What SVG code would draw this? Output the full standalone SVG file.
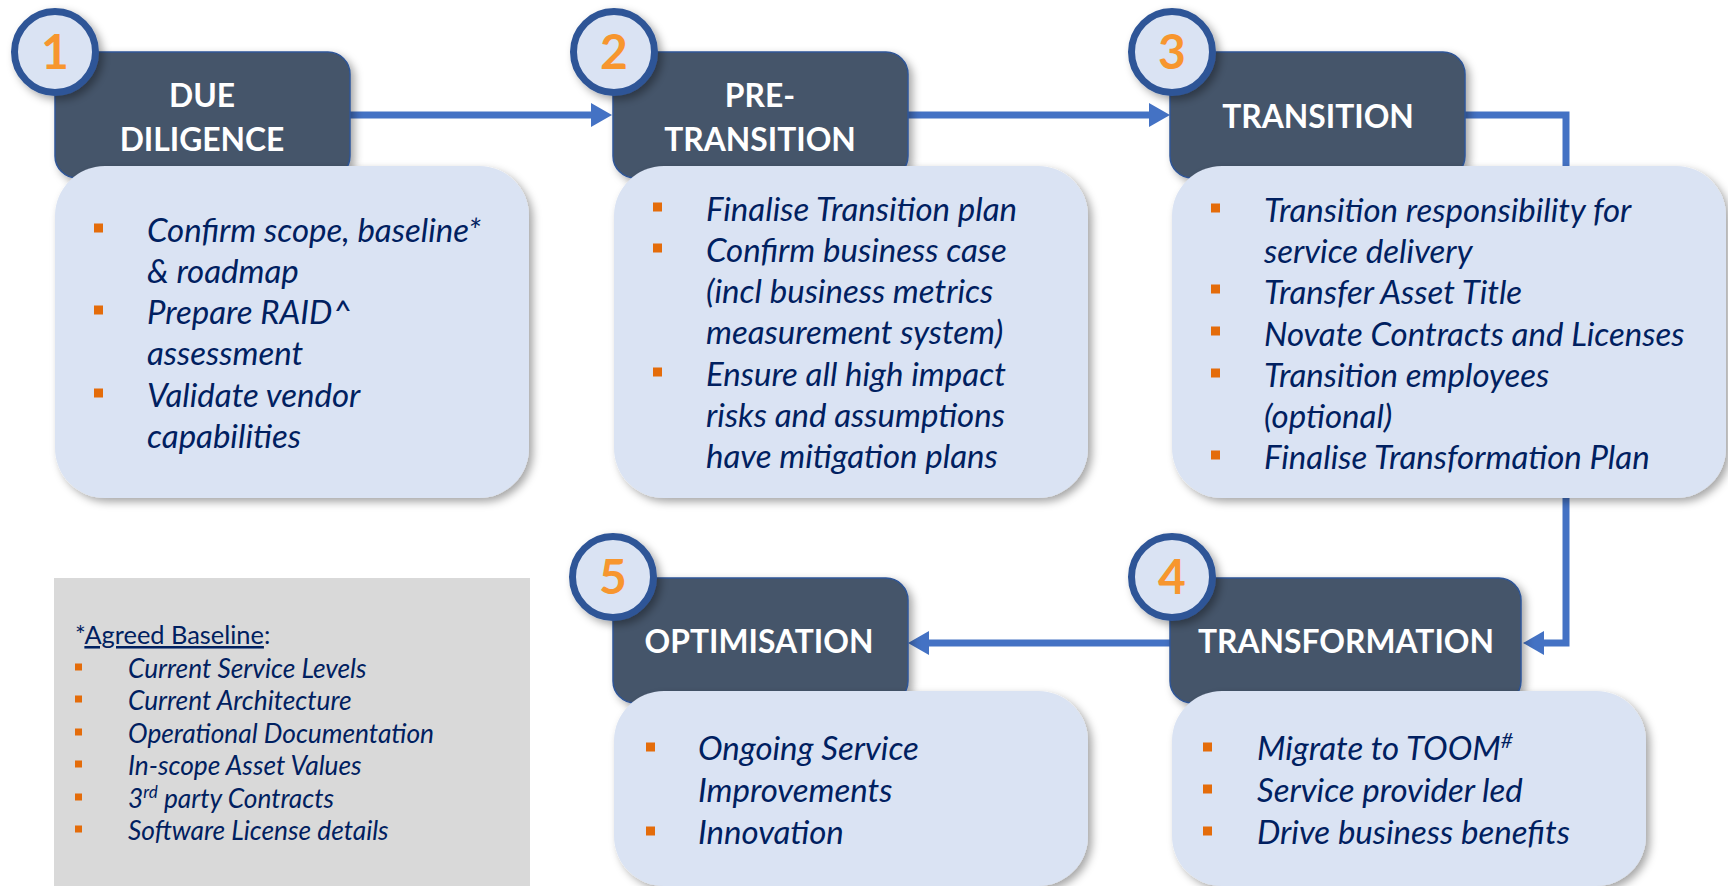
<svg xmlns="http://www.w3.org/2000/svg" width="1728" height="886" viewBox="0 0 1728 886">
<defs>
<filter id="sh" x="-10%" y="-10%" width="130%" height="130%">
<feDropShadow dx="4" dy="4" stdDeviation="4" flood-color="#000" flood-opacity="0.35"/>
</filter>
<marker id="ah" markerUnits="userSpaceOnUse" markerWidth="22" markerHeight="26" viewBox="0 -13 22 26" refX="0" refY="0" orient="auto">
<path d="M0,-12 L21,0 L0,12 z" fill="#4472C4"/>
</marker>
</defs>
<style>
.hdr{fill:#44546A;stroke:#2F5597;stroke-width:1.5;filter:url(#sh)}
.body{fill:#DAE3F3;filter:url(#sh)}
.num{fill:#DAE3F3;stroke:#2F5597;stroke-width:7;filter:url(#sh)}
.numt{font-family:Lato,"Open Sans",sans-serif;font-weight:bold;font-size:48px;fill:#F7962E;text-anchor:middle}
.ht{font-family:Lato,"Open Sans",sans-serif;font-weight:bold;font-size:31.8px;fill:#FFFFFF;text-anchor:middle}
.bt{font-family:Lato,"Open Sans",sans-serif;font-style:italic;font-size:33px;fill:#002060}
.gt{font-family:Lato,"Open Sans",sans-serif;font-style:italic;font-size:26.3px;fill:#002060}
.gh{font-family:Lato,"Open Sans",sans-serif;font-size:25.4px;fill:#002060}
.bl{fill:#E46C0A}
.conn{fill:none;stroke:#4472C4;stroke-width:7;marker-end:url(#ah)}
</style>
<rect width="1728" height="886" fill="#FFFFFF"/>

<g id="connectors">
<path class="conn" d="M350,115 H591"/>
<path class="conn" d="M908,115 H1149"/>
<path class="conn" d="M1465,115 H1566 V643 H1544"/>
<path class="conn" d="M1170,643 H929"/>
</g>

<g id="node1">
<rect class="hdr" x="55" y="52" width="295" height="126" rx="22"/>
<text class="ht" x="202" y="107">DUE</text>
<text class="ht" x="202" y="151">DILIGENCE</text>
<rect class="body" x="55" y="166" width="474" height="332" rx="50"/>
<rect class="bl" x="94" y="223.5" width="9" height="9"/>
<rect class="bl" x="94" y="305.5" width="9" height="9"/>
<rect class="bl" x="94" y="388.5" width="9" height="9"/>
<text class="bt" x="147" y="242">Confirm scope, baseline*</text>
<text class="bt" x="147" y="283">&amp; roadmap</text>
<text class="bt" x="147" y="324">Prepare RAID^</text>
<text class="bt" x="147" y="365">assessment</text>
<text class="bt" x="147" y="407">Validate vendor</text>
<text class="bt" x="147" y="448">capabilities</text>
<circle class="num" cx="55" cy="52" r="40.5"/>
<text class="numt" x="55" y="69">1</text>
</g>

<g id="node2">
<rect class="hdr" x="613" y="52" width="295" height="126" rx="22"/>
<text class="ht" x="760" y="107">PRE-</text>
<text class="ht" x="760" y="151">TRANSITION</text>
<rect class="body" x="614" y="166" width="474" height="332" rx="50"/>
<rect class="bl" x="653" y="202.5" width="9" height="9"/>
<rect class="bl" x="653" y="243.5" width="9" height="9"/>
<rect class="bl" x="653" y="367.5" width="9" height="9"/>
<text class="bt" x="706" y="221">Finalise Transition plan</text>
<text class="bt" x="706" y="262">Confirm business case</text>
<text class="bt" x="706" y="303">(incl business metrics</text>
<text class="bt" x="706" y="344">measurement system)</text>
<text class="bt" x="706" y="386">Ensure all high impact</text>
<text class="bt" x="706" y="427">risks and assumptions</text>
<text class="bt" x="706" y="468">have mitigation plans</text>
<circle class="num" cx="614" cy="52" r="40.5"/>
<text class="numt" x="614" y="69">2</text>
</g>

<g id="node3">
<rect class="hdr" x="1170" y="52" width="295" height="126" rx="22"/>
<text class="ht" x="1318" y="128">TRANSITION</text>
<rect class="body" x="1172" y="166" width="554" height="332" rx="50"/>
<rect class="bl" x="1211" y="203.5" width="9" height="9"/>
<rect class="bl" x="1211" y="284.5" width="9" height="9"/>
<rect class="bl" x="1211" y="326.5" width="9" height="9"/>
<rect class="bl" x="1211" y="368.5" width="9" height="9"/>
<rect class="bl" x="1211" y="450.5" width="9" height="9"/>
<text class="bt" x="1264" y="222">Transition responsibility for</text>
<text class="bt" x="1264" y="263">service delivery</text>
<text class="bt" x="1264" y="304">Transfer Asset Title</text>
<text class="bt" x="1264" y="346">Novate Contracts and Licenses</text>
<text class="bt" x="1264" y="387">Transition employees</text>
<text class="bt" x="1264" y="428">(optional)</text>
<text class="bt" x="1264" y="469">Finalise Transformation Plan</text>
<circle class="num" cx="1172" cy="52" r="40.5"/>
<text class="numt" x="1172" y="69">3</text>
</g>

<g id="node4">
<rect class="hdr" x="1170" y="578" width="351" height="125" rx="22"/>
<text class="ht" x="1346" y="653">TRANSFORMATION</text>
<rect class="body" x="1172" y="691" width="474" height="195" rx="50"/>
<rect class="bl" x="1203" y="742.5" width="9" height="9"/>
<rect class="bl" x="1203" y="784.5" width="9" height="9"/>
<rect class="bl" x="1203" y="826.5" width="9" height="9"/>
<text class="bt" x="1257" y="760">Migrate to TOOM<tspan font-size="21" dy="-12">#</tspan></text>
<text class="bt" x="1257" y="802">Service provider led</text>
<text class="bt" x="1257" y="844">Drive business benefits</text>
<circle class="num" cx="1172" cy="577" r="40.5"/>
<text class="numt" x="1172" y="594">4</text>
</g>

<g id="node5">
<rect class="hdr" x="613" y="578" width="295" height="125" rx="22"/>
<text class="ht" x="759" y="653">OPTIMISATION</text>
<rect class="body" x="614" y="691" width="474" height="195" rx="50"/>
<rect class="bl" x="646" y="742.5" width="9" height="9"/>
<rect class="bl" x="646" y="826.5" width="9" height="9"/>
<text class="bt" x="698" y="760">Ongoing Service</text>
<text class="bt" x="698" y="802">Improvements</text>
<text class="bt" x="698" y="844">Innovation</text>
<circle class="num" cx="613" cy="577" r="40.5"/>
<text class="numt" x="613" y="594">5</text>
</g>

<g id="baseline-note">
<rect x="54" y="578" width="476" height="308" fill="#D9D9D9"/>
<text class="gh" x="75" y="644">*<tspan text-decoration="underline">Agreed Baseline</tspan>:</text>
<rect class="bl" x="75" y="663.5" width="7" height="7"/>
<rect class="bl" x="75" y="695.5" width="7" height="7"/>
<rect class="bl" x="75" y="728.5" width="7" height="7"/>
<rect class="bl" x="75" y="760.5" width="7" height="7"/>
<rect class="bl" x="75" y="793.5" width="7" height="7"/>
<rect class="bl" x="75" y="825.5" width="7" height="7"/>
<text class="gt" x="128" y="678">Current Service Levels</text>
<text class="gt" x="128" y="710">Current Architecture</text>
<text class="gt" x="128" y="743">Operational Documentation</text>
<text class="gt" x="128" y="775">In-scope Asset Values</text>
<text class="gt" x="128" y="808">3<tspan font-size="17" dy="-10">rd</tspan><tspan dy="10"> party Contracts</tspan></text>
<text class="gt" x="128" y="840">Software License details</text>
</g>
</svg>
